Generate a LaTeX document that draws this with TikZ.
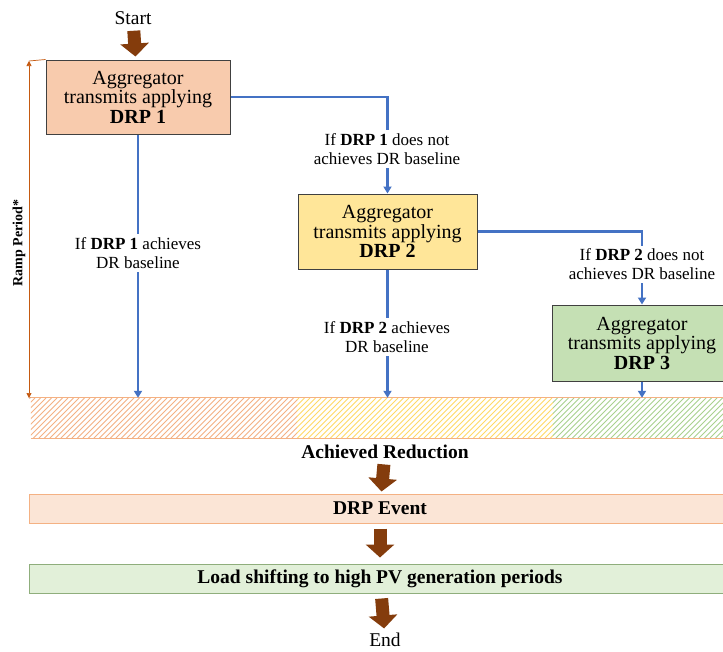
\documentclass[tikz,border=0pt]{standalone}
\usepackage{fontspec}
\setmainfont{Liberation Serif}
\usetikzlibrary{arrows.meta}

\definecolor{flowblue}{HTML}{4472C4}
\definecolor{arrowbrown}{HTML}{843C0C}
\definecolor{rampbrown}{HTML}{C55A11}
\definecolor{peach}{HTML}{F8CBAD}
\definecolor{sand}{HTML}{FFE699}
\definecolor{sage}{HTML}{C5E0B4}
\definecolor{boxline}{HTML}{404040}
\definecolor{hatchorange}{HTML}{F4B183}
\definecolor{hatchyellow}{HTML}{FFD966}
\definecolor{hatchgreen}{HTML}{A9D18E}
\definecolor{eventfill}{HTML}{FBE5D6}
\definecolor{shiftfill}{HTML}{E2F0D9}
\definecolor{shiftline}{HTML}{8FAE7C}

\tikzset{
  drpbox/.style={draw=boxline, line width=1pt, align=center, inner sep=0pt,
    font=\fontsize{20}{19.5}\selectfont},
  cond/.style={fill=white, align=center, inner sep=3pt,
    font=\fontsize{17}{19}\selectfont},
  flow/.style={draw=flowblue, line width=2.3pt, -{Triangle[width=8pt,length=7pt]}},
  bigarrow/.style={draw=arrowbrown, line width=13pt,
    -{Triangle[width=28pt,length=13pt]}},
  band/.style={inner sep=0pt, minimum height=40},
  bar/.style={line width=1pt, inner sep=0pt, minimum height=29, minimum width=702,
    font=\fontsize{19.5}{21}\selectfont\bfseries},
  terminal/.style={inner sep=1pt, font=\fontsize{19.5}{21}\selectfont},
  ramp/.style={draw=rampbrown, line width=0.7pt},
}

% diagonal hatching inside a rectangular node
\newcommand{\hatchnode}[2]{%
  \begin{scope}
    \clip (#1.south west) rectangle (#1.north east);
    \foreach \k in {-60,-54.5,...,760}
      \draw[#2, line width=0.9pt] (\k,438) -- (\k+40,398);
  \end{scope}}

\begin{document}
\begin{tikzpicture}[x=1pt,y=-1pt]
\useasboundingbox[fill=white] (0,0) rectangle (723,651);

% start and the three request boxes
\node[terminal] (start) at (133,18) {Start};
\node[drpbox, fill=peach, minimum width=184, minimum height=74] (drp1) at (138,97)
  {Aggregator\\transmits applying\\\textbf{DRP 1}};
\node[drpbox, fill=sand, minimum width=179, minimum height=75] (drp2) at (387.5,231.5)
  {Aggregator\\transmits applying\\\textbf{DRP 2}};
\node[drpbox, fill=sage, minimum width=180, minimum height=76] (drp3) at (642,343)
  {Aggregator\\transmits applying\\\textbf{DRP 3}};

% hatched band of achieved reduction
\node[band, minimum width=266] (seg1) at (164,418) {};
\node[band, minimum width=256] (seg2) at (425,418) {};
\node[band, minimum width=180] (seg3) at (643,418) {};
\hatchnode{seg1}{hatchorange}
\hatchnode{seg2}{hatchyellow}
\hatchnode{seg3}{hatchgreen}
\draw[hatchorange, line width=0.9pt] (seg1.north west) -- (seg3.north east);
\draw[hatchorange, line width=0.9pt] (seg1.south west) -- (seg3.south east);

% lower chain
\node[font=\fontsize{19.5}{21}\selectfont\bfseries] (achieved) at (385,452) {Achieved Reduction};
\node[bar, draw=hatchorange, fill=eventfill] (event) at (380,508.5) {DRP Event};
\node[bar, draw=shiftline, fill=shiftfill] (shift) at (380,578.5)
  {Load shifting to high PV generation periods};
\node[terminal] (end) at (385,639.5) {End};

% blue decision paths
\draw[flow] (drp1.east) -| (drp2.north);
\draw[flow] (drp2.east) -| (drp3.north);
\draw[flow] (drp1.south) -- (drp1.south |- seg1.north);
\draw[flow] (drp2.south) -- (drp2.south |- seg2.north);
\draw[flow] (drp3.south) -- (drp3.south |- seg3.north);

% condition labels sit on top of the paths
\node[cond] (c1no) at (387,149) {If \textbf{DRP 1} does not\\achieves DR baseline};
\node[cond] (c1yes) at (138,253) {If \textbf{DRP 1} achieves\\DR baseline};
\node[cond] (c2no) at (642,264.5) {If \textbf{DRP 2} does not\\achieves DR baseline};
\node[cond] (c2yes) at (387,337) {If \textbf{DRP 2} achieves\\DR baseline};

% brown block arrows
\draw[bigarrow, shorten <=5pt, shorten >=3pt] (start) -- (drp1);
\draw[bigarrow, shorten <=2pt, shorten >=2pt] (achieved) -- (event);
\draw[bigarrow, shorten <=5pt, shorten >=6pt] (event) -- (shift);
\draw[bigarrow, shorten <=5pt, shorten >=3pt] (shift) -- (end);

% ramp period span
\coordinate (rtop) at (29,61);
\coordinate (rbot) at (29,398);
\draw[ramp] (rtop) -- (drp1.north west);
\draw[ramp] (rbot) -- (seg1.north west);
\draw[ramp, {Triangle[width=5pt,length=5pt]}-{Triangle[width=5pt,length=5pt]}] (rtop) -- (rbot);
\node[rotate=90, font=\fontsize{14}{16}\selectfont\bfseries] (ramplabel) at (19,243) {Ramp Period*};
\end{tikzpicture}
\end{document}
